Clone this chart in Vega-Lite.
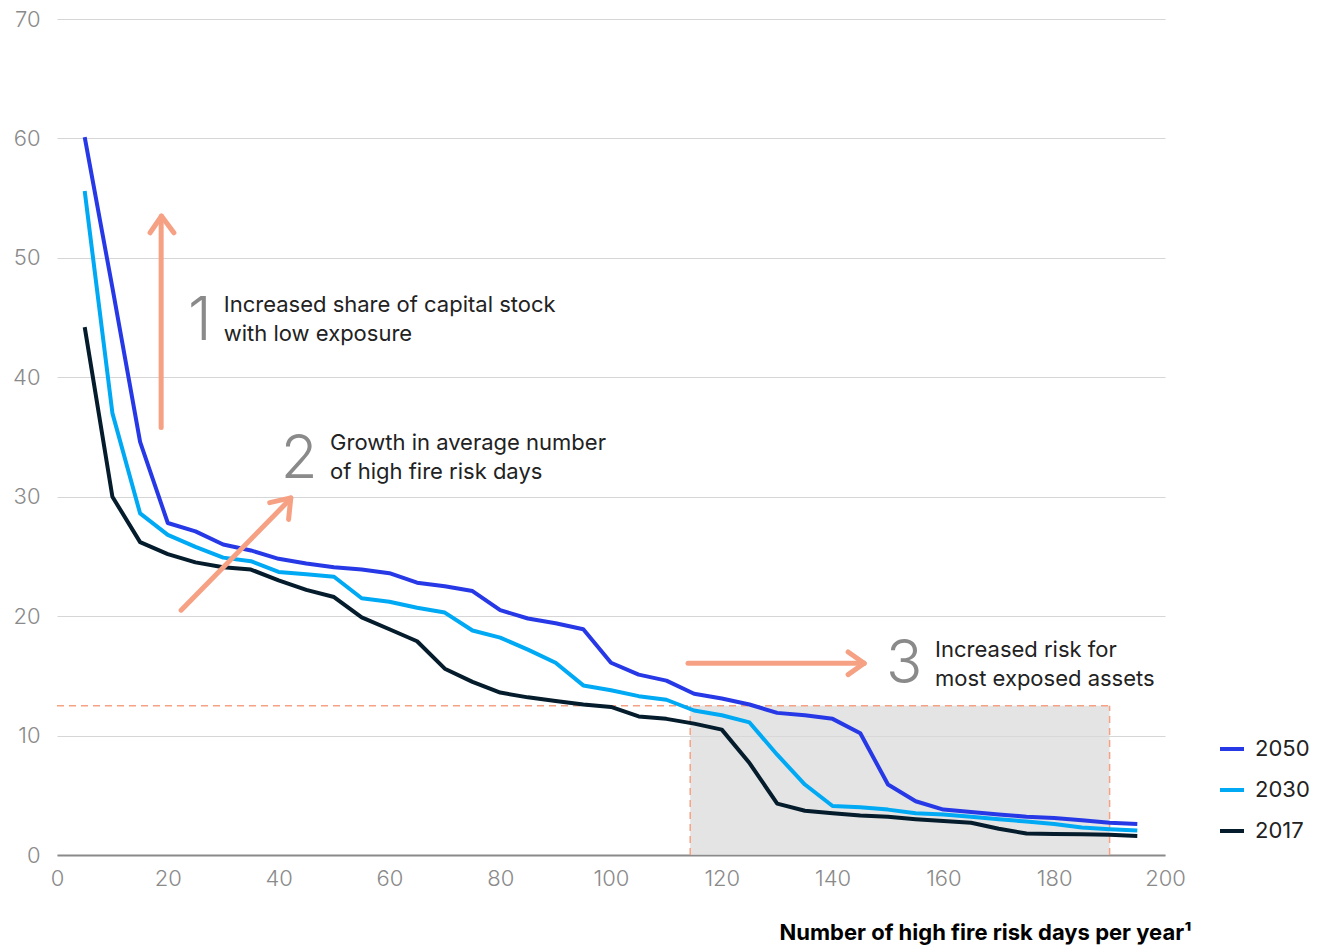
{
  "$schema": "https://vega.github.io/schema/vega-lite/v6.json",
  "width": 1108,
  "height": 836,
  "autosize": {"type": "none"},
  "padding": {"left": 57, "top": 19, "right": 156, "bottom": 90},
  "background": "white",
  "config": {"view": {"stroke": null}, "font": "Inter"},
  "datasets": {
    "shade": [{"x": 114.3, "x2": 190, "y": 0, "y2": 12.5}],
    "dashes": [
      {"x": 0, "x2": 190, "y": 12.5, "y2": 12.5},
      {"x": 114.3, "x2": 114.3, "y": 0, "y2": 12.5},
      {"x": 190, "x2": 190, "y": 0, "y2": 12.5}
    ],
    "arrows": [
      {"x": 18.8, "y": 35.8, "x2": 18.8, "y2": 53.3},
      {"x": 16.8, "y": 52.1, "x2": 18.85, "y2": 53.5},
      {"x": 21.1, "y": 52.1, "x2": 18.85, "y2": 53.5},
      {"x": 22.4, "y": 20.5, "x2": 42.1, "y2": 29.8},
      {"x": 38.4, "y": 29.5, "x2": 42.2, "y2": 29.9},
      {"x": 41.8, "y": 28.1, "x2": 42.2, "y2": 29.9},
      {"x": 113.9, "y": 16.05, "x2": 145.6, "y2": 16.05},
      {"x": 142.8, "y": 17.0, "x2": 145.7, "y2": 16.05},
      {"x": 142.8, "y": 15.1, "x2": 145.7, "y2": 16.05}
    ],
    "numerals": [
      {"x": 25.8, "y": 43.1, "label": "1"},
      {"x": 43.7, "y": 31.6, "label": "2"},
      {"x": 152.9, "y": 14.4, "label": "3"}
    ],
    "notes": [
      {"x": 30.1, "y": 45.5, "label": "Increased share of capital stock"},
      {"x": 30.1, "y": 43.0, "label": "with low exposure"},
      {"x": 49.3, "y": 33.9, "label": "Growth in average number"},
      {"x": 49.3, "y": 31.5, "label": "of high fire risk days"},
      {"x": 158.5, "y": 16.6, "label": "Increased risk for"},
      {"x": 158.5, "y": 14.15, "label": "most exposed assets"}
    ],
    "series": [
      {"year": "2050", "x": 5, "y": 60.1}, {"year": "2050", "x": 10, "y": 47.5}, {"year": "2050", "x": 15, "y": 34.6}, {"year": "2050", "x": 20, "y": 27.8}, {"year": "2050", "x": 25, "y": 27.1}, {"year": "2050", "x": 30, "y": 26.0}, {"year": "2050", "x": 35, "y": 25.5}, {"year": "2050", "x": 40, "y": 24.8}, {"year": "2050", "x": 45, "y": 24.4}, {"year": "2050", "x": 50, "y": 24.1}, {"year": "2050", "x": 55, "y": 23.9}, {"year": "2050", "x": 60, "y": 23.6}, {"year": "2050", "x": 65, "y": 22.8}, {"year": "2050", "x": 70, "y": 22.5}, {"year": "2050", "x": 75, "y": 22.1}, {"year": "2050", "x": 80, "y": 20.5}, {"year": "2050", "x": 85, "y": 19.8}, {"year": "2050", "x": 90, "y": 19.4}, {"year": "2050", "x": 95, "y": 18.9}, {"year": "2050", "x": 100, "y": 16.1}, {"year": "2050", "x": 105, "y": 15.1}, {"year": "2050", "x": 110, "y": 14.6}, {"year": "2050", "x": 115, "y": 13.5}, {"year": "2050", "x": 120, "y": 13.1}, {"year": "2050", "x": 125, "y": 12.6}, {"year": "2050", "x": 130, "y": 11.9}, {"year": "2050", "x": 135, "y": 11.7}, {"year": "2050", "x": 140, "y": 11.4}, {"year": "2050", "x": 145, "y": 10.2}, {"year": "2050", "x": 150, "y": 5.9}, {"year": "2050", "x": 155, "y": 4.5}, {"year": "2050", "x": 160, "y": 3.8}, {"year": "2050", "x": 165, "y": 3.6}, {"year": "2050", "x": 170, "y": 3.4}, {"year": "2050", "x": 175, "y": 3.2}, {"year": "2050", "x": 180, "y": 3.1}, {"year": "2050", "x": 185, "y": 2.9}, {"year": "2050", "x": 190, "y": 2.7}, {"year": "2050", "x": 195, "y": 2.6},
      {"year": "2030", "x": 5, "y": 55.6}, {"year": "2030", "x": 10, "y": 37.0}, {"year": "2030", "x": 15, "y": 28.6}, {"year": "2030", "x": 20, "y": 26.8}, {"year": "2030", "x": 25, "y": 25.8}, {"year": "2030", "x": 30, "y": 24.9}, {"year": "2030", "x": 35, "y": 24.6}, {"year": "2030", "x": 40, "y": 23.7}, {"year": "2030", "x": 45, "y": 23.5}, {"year": "2030", "x": 50, "y": 23.3}, {"year": "2030", "x": 55, "y": 21.5}, {"year": "2030", "x": 60, "y": 21.2}, {"year": "2030", "x": 65, "y": 20.7}, {"year": "2030", "x": 70, "y": 20.3}, {"year": "2030", "x": 75, "y": 18.8}, {"year": "2030", "x": 80, "y": 18.2}, {"year": "2030", "x": 85, "y": 17.2}, {"year": "2030", "x": 90, "y": 16.1}, {"year": "2030", "x": 95, "y": 14.2}, {"year": "2030", "x": 100, "y": 13.8}, {"year": "2030", "x": 105, "y": 13.3}, {"year": "2030", "x": 110, "y": 13.0}, {"year": "2030", "x": 115, "y": 12.1}, {"year": "2030", "x": 120, "y": 11.7}, {"year": "2030", "x": 125, "y": 11.1}, {"year": "2030", "x": 130, "y": 8.4}, {"year": "2030", "x": 135, "y": 5.9}, {"year": "2030", "x": 140, "y": 4.1}, {"year": "2030", "x": 145, "y": 4.0}, {"year": "2030", "x": 150, "y": 3.8}, {"year": "2030", "x": 155, "y": 3.5}, {"year": "2030", "x": 160, "y": 3.4}, {"year": "2030", "x": 165, "y": 3.2}, {"year": "2030", "x": 170, "y": 3.0}, {"year": "2030", "x": 175, "y": 2.8}, {"year": "2030", "x": 180, "y": 2.6}, {"year": "2030", "x": 185, "y": 2.3}, {"year": "2030", "x": 190, "y": 2.15}, {"year": "2030", "x": 195, "y": 2.05},
      {"year": "2017", "x": 5, "y": 44.2}, {"year": "2017", "x": 10, "y": 30.0}, {"year": "2017", "x": 15, "y": 26.2}, {"year": "2017", "x": 20, "y": 25.2}, {"year": "2017", "x": 25, "y": 24.5}, {"year": "2017", "x": 30, "y": 24.1}, {"year": "2017", "x": 35, "y": 23.9}, {"year": "2017", "x": 40, "y": 23.0}, {"year": "2017", "x": 45, "y": 22.2}, {"year": "2017", "x": 50, "y": 21.6}, {"year": "2017", "x": 55, "y": 19.9}, {"year": "2017", "x": 60, "y": 18.9}, {"year": "2017", "x": 65, "y": 17.9}, {"year": "2017", "x": 70, "y": 15.6}, {"year": "2017", "x": 75, "y": 14.5}, {"year": "2017", "x": 80, "y": 13.6}, {"year": "2017", "x": 85, "y": 13.2}, {"year": "2017", "x": 90, "y": 12.9}, {"year": "2017", "x": 95, "y": 12.6}, {"year": "2017", "x": 100, "y": 12.4}, {"year": "2017", "x": 105, "y": 11.6}, {"year": "2017", "x": 110, "y": 11.4}, {"year": "2017", "x": 115, "y": 11.0}, {"year": "2017", "x": 120, "y": 10.5}, {"year": "2017", "x": 125, "y": 7.7}, {"year": "2017", "x": 130, "y": 4.3}, {"year": "2017", "x": 135, "y": 3.7}, {"year": "2017", "x": 140, "y": 3.5}, {"year": "2017", "x": 145, "y": 3.3}, {"year": "2017", "x": 150, "y": 3.2}, {"year": "2017", "x": 155, "y": 3.0}, {"year": "2017", "x": 160, "y": 2.85}, {"year": "2017", "x": 165, "y": 2.7}, {"year": "2017", "x": 170, "y": 2.2}, {"year": "2017", "x": 175, "y": 1.8}, {"year": "2017", "x": 180, "y": 1.76}, {"year": "2017", "x": 185, "y": 1.73}, {"year": "2017", "x": 190, "y": 1.7}, {"year": "2017", "x": 195, "y": 1.6}
    ]
  },
  "encoding": {
    "x": {
      "field": "x",
      "type": "quantitative",
      "scale": {"domain": [0, 200], "nice": false, "zero": false},
      "axis": {
        "values": [0, 20, 40, 60, 80, 100, 120, 140, 160, 180, 200],
        "grid": false,
        "ticks": false,
        "domain": true,
        "domainColor": "#8a8a8a",
        "domainWidth": 2,
        "labelFontSize": 22,
        "labelFontWeight": 300,
        "labelColor": "#8a8a8a",
        "labelPadding": 13,
        "labelFlush": false,
        "title": "Number of high fire risk days per year¹",
        "titleFontSize": 22,
        "titleFontWeight": "bold",
        "titleColor": "#000000",
        "titleAlign": "right",
        "titleAnchor": "end",
        "titleBaseline": "alphabetic",
        "titleX": 1134,
        "titleY": 84
      }
    },
    "y": {
      "field": "y",
      "type": "quantitative",
      "scale": {"domain": [0, 70], "nice": false},
      "axis": {
        "values": [0, 10, 20, 30, 40, 50, 60, 70],
        "grid": true,
        "gridColor": "#d6d6d6",
        "gridWidth": 1,
        "domain": false,
        "ticks": false,
        "labelFontSize": 22,
        "labelFontWeight": 300,
        "labelColor": "#8a8a8a",
        "labelPadding": 17,
        "title": null
      }
    }
  },
  "layer": [
    {
      "data": {"name": "shade"},
      "mark": {"type": "rect", "fill": "#d9d9d9", "opacity": 0.7},
      "encoding": {"x2": {"field": "x2"}, "y2": {"field": "y2"}}
    },
    {
      "data": {"name": "dashes"},
      "mark": {"type": "rule", "color": "#f6a184", "strokeWidth": 1.5, "strokeDash": [7, 5]},
      "encoding": {"x2": {"field": "x2"}, "y2": {"field": "y2"}}
    },
    {
      "data": {"name": "series"},
      "mark": {"type": "line", "strokeWidth": 4, "strokeJoin": "round"},
      "encoding": {
        "color": {
          "field": "year",
          "type": "nominal",
          "scale": {"domain": ["2050", "2030", "2017"], "range": ["#2739e6", "#00a9f4", "#051c2c"]},
          "legend": {
            "title": null,
            "orient": "none",
            "legendX": 1161,
            "legendY": 716,
            "symbolType": "stroke",
            "symbolSize": 576,
            "symbolStrokeWidth": 4,
            "labelFontSize": 22,
            "labelColor": "#222222",
            "labelOffset": 9,
            "rowPadding": 16
          }
        }
      }
    },
    {
      "data": {"name": "arrows"},
      "mark": {"type": "rule", "color": "#f6a184", "strokeWidth": 5, "strokeCap": "round"},
      "encoding": {"x2": {"field": "x2"}, "y2": {"field": "y2"}}
    },
    {
      "data": {"name": "numerals"},
      "mark": {"type": "text", "align": "center", "baseline": "alphabetic", "fontSize": 60, "fontWeight": 300, "color": "#8a8a8a"},
      "encoding": {"text": {"field": "label"}}
    },
    {
      "data": {"name": "notes"},
      "mark": {"type": "text", "align": "left", "baseline": "alphabetic", "fontSize": 22, "color": "#222222"},
      "encoding": {"text": {"field": "label"}}
    }
  ]
}
